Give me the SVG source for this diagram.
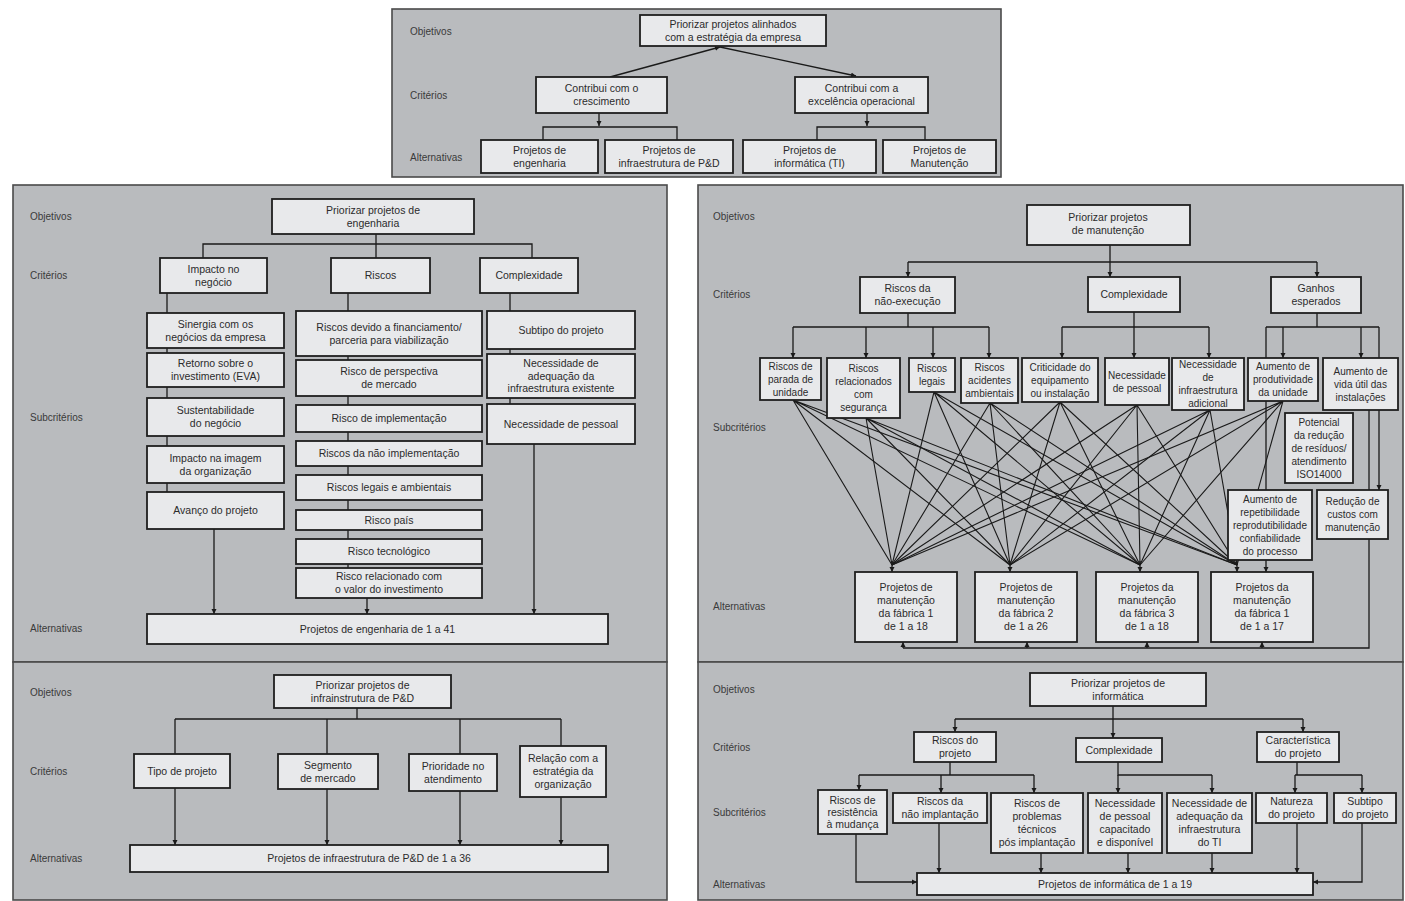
<svg xmlns="http://www.w3.org/2000/svg" width="1405" height="901" viewBox="0 0 1405 901">
<style>
.panel{fill:#b9bbbe;stroke:#4a4a4a;stroke-width:1.6}
.box{fill:#e8e9eb;stroke:#1e1e1e;stroke-width:1.8}
.t{font-family:"Liberation Sans",Arial,sans-serif;font-size:10.5px;fill:#2b2b2b;text-anchor:middle}
.s{font-size:10px}
.lbl{font-family:"Liberation Sans",Arial,sans-serif;font-size:10px;fill:#3a3a3a}
.ln{stroke:#1a1a1a;stroke-width:1.3;fill:none}
.ar{stroke:#1a1a1a;stroke-width:1.3;fill:none;marker-end:url(#ah)}
.mesh{stroke:#1a1a1a;stroke-width:1.1;fill:none}
</style>
<defs>
<marker id="ah" viewBox="0 0 10 10" refX="10" refY="5" markerWidth="5" markerHeight="6" markerUnits="userSpaceOnUse" orient="auto"><path d="M0,0L10,5L0,10z" fill="#1a1a1a"/></marker>
</defs>
<rect x="0" y="0" width="1405" height="901" fill="#ffffff"/>
<g id="panels">
<rect class="panel" x="392" y="9" width="609" height="168"/>
<rect class="panel" x="13" y="185" width="654" height="477"/>
<rect class="panel" x="13" y="662" width="654" height="238"/>
<rect class="panel" x="698" y="185" width="705" height="477"/>
<rect class="panel" x="698" y="662" width="705" height="238"/>
</g>
<g id="labels" class="lbl">
<text x="410" y="35">Objetivos</text><text x="410" y="99">Critérios</text><text x="410" y="161">Alternativas</text>
<text x="30" y="220">Objetivos</text><text x="30" y="279">Critérios</text><text x="30" y="421">Subcritérios</text><text x="30" y="632">Alternativas</text>
<text x="30" y="696">Objetivos</text><text x="30" y="775">Critérios</text><text x="30" y="862">Alternativas</text>
<text x="713" y="220">Objetivos</text><text x="713" y="298">Critérios</text><text x="713" y="431">Subcritérios</text><text x="713" y="610">Alternativas</text>
<text x="713" y="693">Objetivos</text><text x="713" y="751">Critérios</text><text x="713" y="816">Subcritérios</text><text x="713" y="888">Alternativas</text>
</g>
<g id="connectors">
<path class="ar" d="M610,77 L720,47"/>
<path class="ar" d="M720,47 L856,76"/>
<path class="ar" d="M599,113 V126"/>
<path class="ln" d="M543,140 V127 H677 V140"/>
<path class="ar" d="M867,113 V126"/>
<path class="ln" d="M817,140 V127 H925 V140"/>
<path class="ln" d="M376,234 V244 M203,258 V244 H532 V258 M376,244 V258"/>
<path class="ln" d="M167,293 V492"/>
<path class="ar" d="M214,529 V614"/>
<path class="ln" d="M348,293 V568"/>
<path class="ar" d="M367,598 V614"/>
<path class="ln" d="M510,293 V404"/>
<path class="ar" d="M534,444 V614"/>
<path class="ln" d="M357,708 V719 M175,719 H561 M175,719 V754 M327,719 V754 M460,719 V754 M561,719 V746"/>
<path class="ar" d="M175,788 V845"/>
<path class="ar" d="M327,789 V845"/>
<path class="ar" d="M460,791 V845"/>
<path class="ar" d="M561,797 V845"/>
<path class="ln" d="M1110,245 V262 M908,262 H1317"/>
<path class="ar" d="M908,262 V277"/><path class="ar" d="M1110,262 V277"/><path class="ar" d="M1317,262 V277"/>
<path class="ln" d="M908,313 V327 M793,327 H989"/>
<path class="ar" d="M793,327 V358"/><path class="ar" d="M866,327 V358"/><path class="ar" d="M933,327 V358"/><path class="ar" d="M989,327 V358"/>
<path class="ln" d="M1134,312 V327 M1062,327 H1209"/>
<path class="ar" d="M1062,327 V358"/><path class="ar" d="M1134,327 V358"/><path class="ar" d="M1209,327 V358"/>
<path class="ln" d="M1317,313 V327 M1266,327 H1379"/>
<path class="ar" d="M1283,327 V358"/><path class="ar" d="M1361,327 V358"/>
<path class="ar" d="M1266,327 V572"/>
<path class="ar" d="M1379,327 V490"/>
<path class="ln" d="M1369,410 V648 H903"/>
<path class="ar" d="M903,648 V642"/><path class="ar" d="M1027,648 V642"/><path class="ar" d="M1147,648 V642"/><path class="ar" d="M1262,648 V642"/>
<g class="mesh">
<path d="M793,400 L892,565 M793,400 L1010,565 M793,400 L1140,565 M793,400 L1237,565"/>
<path d="M866,418 L892,565 M866,418 L1010,565 M866,418 L1140,565 M866,418 L1237,565"/>
<path d="M934,392 L892,565 M934,392 L1010,565 M934,392 L1140,565 M934,392 L1237,565"/>
<path d="M990,403 L892,565 M990,403 L1010,565 M990,403 L1140,565 M990,403 L1237,565"/>
<path d="M1060,402 L892,565 M1060,402 L1010,565 M1060,402 L1140,565 M1060,402 L1237,565"/>
<path d="M1137,405 L892,565 M1137,405 L1010,565 M1137,405 L1140,565 M1137,405 L1237,565"/>
<path d="M1210,410 L892,565 M1210,410 L1010,565 M1210,410 L1140,565 M1210,410 L1237,565"/>
<path d="M1283,401 L892,565 M1283,401 L1010,565 M1283,401 L1140,565 M1283,401 L1237,565"/>
</g>
<path class="ar" d="M892,561 V572"/><path class="ar" d="M1010,561 V572"/><path class="ar" d="M1140,561 V572"/><path class="ar" d="M1237,561 V572"/>
<path class="ln" d="M1113,706 V719 M955,719 H1303"/>
<path class="ar" d="M955,719 V732"/><path class="ar" d="M1113,719 V738"/><path class="ar" d="M1303,719 V732"/>
<path class="ln" d="M950,762 V775 M859,775 H1034"/>
<path class="ar" d="M859,775 V790"/><path class="ar" d="M941,775 V793"/><path class="ar" d="M1034,775 V793"/>
<path class="ln" d="M1118,762 V775 H1212"/>
<path class="ar" d="M1118,775 V793"/><path class="ar" d="M1212,775 V793"/>
<path class="ln" d="M1297,762 V775 M1295,775 H1362"/>
<path class="ar" d="M1295,775 V793"/><path class="ar" d="M1362,775 V793"/>
<path class="ar" d="M939,823 V873"/><path class="ar" d="M1041,853 V873"/><path class="ar" d="M1128,853 V873"/><path class="ar" d="M1212,853 V873"/><path class="ar" d="M1297,823 V873"/>
<path class="ar" d="M856,834 V882 H917"/>
<path class="ar" d="M1362,823 V882 H1313"/>
</g>
<g id="top-obj"><rect class="box" x="640" y="15" width="186" height="31"/><text class="t"><tspan x="733" y="27.6">Priorizar projetos alinhados</tspan><tspan x="733" y="40.6">com a estratégia da empresa</tspan></text></g>
<g id="top-c1"><rect class="box" x="536" y="77" width="131" height="36"/><text class="t"><tspan x="601.5" y="92.1">Contribui com o</tspan><tspan x="601.5" y="105.1">crescimento</tspan></text></g>
<g id="top-c2"><rect class="box" x="795" y="77" width="133" height="36"/><text class="t"><tspan x="861.5" y="92.1">Contribui com a</tspan><tspan x="861.5" y="105.1">excelência operacional</tspan></text></g>
<g id="top-a1"><rect class="box" x="481" y="140" width="117" height="33"/><text class="t"><tspan x="539.5" y="153.6">Projetos de</tspan><tspan x="539.5" y="166.6">engenharia</tspan></text></g>
<g id="top-a2"><rect class="box" x="605" y="140" width="128" height="33"/><text class="t"><tspan x="669" y="153.6">Projetos de</tspan><tspan x="669" y="166.6">infraestrutura de P&amp;D</tspan></text></g>
<g id="top-a3"><rect class="box" x="743" y="140" width="133" height="33"/><text class="t"><tspan x="809.5" y="153.6">Projetos de</tspan><tspan x="809.5" y="166.6">informática (TI)</tspan></text></g>
<g id="top-a4"><rect class="box" x="883" y="140" width="113" height="33"/><text class="t"><tspan x="939.5" y="153.6">Projetos de</tspan><tspan x="939.5" y="166.6">Manutenção</tspan></text></g>
<g id="eng-obj"><rect class="box" x="272" y="199" width="202" height="35"/><text class="t"><tspan x="373" y="213.6">Priorizar projetos de</tspan><tspan x="373" y="226.6">engenharia</tspan></text></g>
<g id="eng-c1"><rect class="box" x="160" y="258" width="107" height="35"/><text class="t"><tspan x="213.5" y="272.6">Impacto no</tspan><tspan x="213.5" y="285.6">negócio</tspan></text></g>
<g id="eng-c2"><rect class="box" x="331" y="258" width="99" height="35"/><text class="t" x="380.5" y="279.1">Riscos</text></g>
<g id="eng-c3"><rect class="box" x="480" y="258" width="98" height="35"/><text class="t" x="529" y="279.1">Complexidade</text></g>
<g id="eng-s1a"><rect class="box" x="147" y="313" width="137" height="35"/><text class="t"><tspan x="215.5" y="327.6">Sinergia com os</tspan><tspan x="215.5" y="340.6">negócios da empresa</tspan></text></g>
<g id="eng-s1b"><rect class="box" x="147" y="353" width="137" height="34"/><text class="t"><tspan x="215.5" y="367.1">Retorno sobre o</tspan><tspan x="215.5" y="380.1">investimento (EVA)</tspan></text></g>
<g id="eng-s1c"><rect class="box" x="147" y="398" width="137" height="38"/><text class="t"><tspan x="215.5" y="414.1">Sustentabilidade</tspan><tspan x="215.5" y="427.1">do negócio</tspan></text></g>
<g id="eng-s1d"><rect class="box" x="147" y="446" width="137" height="37"/><text class="t"><tspan x="215.5" y="461.6">Impacto na imagem</tspan><tspan x="215.5" y="474.6">da organização</tspan></text></g>
<g id="eng-s1e"><rect class="box" x="147" y="492" width="137" height="37"/><text class="t" x="215.5" y="514.1">Avanço do projeto</text></g>
<g id="eng-s2a"><rect class="box" x="296" y="311" width="186" height="45"/><text class="t"><tspan x="389" y="330.6">Riscos devido a financiamento/</tspan><tspan x="389" y="343.6">parceria para viabilização</tspan></text></g>
<g id="eng-s2b"><rect class="box" x="296" y="360" width="186" height="36"/><text class="t"><tspan x="389" y="375.1">Risco de perspectiva</tspan><tspan x="389" y="388.1">de mercado</tspan></text></g>
<g id="eng-s2c"><rect class="box" x="296" y="405" width="186" height="27"/><text class="t" x="389" y="422.1">Risco de implementação</text></g>
<g id="eng-s2d"><rect class="box" x="296" y="441" width="186" height="25"/><text class="t" x="389" y="457.1">Riscos da não implementação</text></g>
<g id="eng-s2e"><rect class="box" x="296" y="475" width="186" height="25"/><text class="t" x="389" y="491.1">Riscos legais e ambientais</text></g>
<g id="eng-s2f"><rect class="box" x="296" y="510" width="186" height="20"/><text class="t" x="389" y="523.6">Risco país</text></g>
<g id="eng-s2g"><rect class="box" x="296" y="539" width="186" height="25"/><text class="t" x="389" y="555.1">Risco tecnológico</text></g>
<g id="eng-s2h"><rect class="box" x="296" y="568" width="186" height="30"/><text class="t"><tspan x="389" y="580.1">Risco relacionado com</tspan><tspan x="389" y="593.1">o valor do investimento</tspan></text></g>
<g id="eng-s3a"><rect class="box" x="487" y="311" width="148" height="38"/><text class="t" x="561" y="333.6">Subtipo do projeto</text></g>
<g id="eng-s3b"><rect class="box" x="487" y="354" width="148" height="44"/><text class="t"><tspan x="561" y="367.1">Necessidade de</tspan><tspan x="561" y="379.6">adequação da</tspan><tspan x="561" y="392.1">infraestrutura existente</tspan></text></g>
<g id="eng-s3c"><rect class="box" x="487" y="404" width="148" height="40"/><text class="t" x="561" y="427.6">Necessidade de pessoal</text></g>
<g id="eng-alt"><rect class="box" x="147" y="614" width="461" height="30"/><text class="t" x="377.5" y="632.6">Projetos de engenharia de 1 a 41</text></g>
<g id="pd-obj"><rect class="box" x="274" y="675" width="177" height="33"/><text class="t"><tspan x="362.5" y="688.6">Priorizar projetos de</tspan><tspan x="362.5" y="701.6">infrainstrutura de P&amp;D</tspan></text></g>
<g id="pd-c1"><rect class="box" x="134" y="754" width="96" height="34"/><text class="t" x="182" y="774.6">Tipo de projeto</text></g>
<g id="pd-c2"><rect class="box" x="278" y="754" width="100" height="35"/><text class="t"><tspan x="328" y="768.6">Segmento</tspan><tspan x="328" y="781.6">de mercado</tspan></text></g>
<g id="pd-c3"><rect class="box" x="409" y="754" width="88" height="37"/><text class="t"><tspan x="453" y="769.6">Prioridade no</tspan><tspan x="453" y="782.6">atendimento</tspan></text></g>
<g id="pd-c4"><rect class="box" x="520" y="746" width="86" height="51"/><text class="t"><tspan x="563" y="762.1">Relação com a</tspan><tspan x="563" y="775.1">estratégia da</tspan><tspan x="563" y="788.1">organização</tspan></text></g>
<g id="pd-alt"><rect class="box" x="130" y="845" width="478" height="27"/><text class="t" x="369" y="862.1">Projetos de infraestrutura de P&amp;D de 1 a 36</text></g>
<g id="mt-obj"><rect class="box" x="1027" y="205" width="163" height="40"/><text class="t"><tspan x="1108" y="221.1">Priorizar projetos</tspan><tspan x="1108" y="234.1">de manutenção</tspan></text></g>
<g id="mt-c1"><rect class="box" x="860" y="277" width="95" height="36"/><text class="t"><tspan x="907.5" y="292.1">Riscos da</tspan><tspan x="907.5" y="305.1">não-execução</tspan></text></g>
<g id="mt-c2"><rect class="box" x="1088" y="277" width="92" height="35"/><text class="t" x="1134" y="298.1">Complexidade</text></g>
<g id="mt-c3"><rect class="box" x="1271" y="277" width="90" height="36"/><text class="t"><tspan x="1316" y="292.1">Ganhos</tspan><tspan x="1316" y="305.1">esperados</tspan></text></g>
<g id="mt-s1"><rect class="box" x="760" y="358" width="61" height="42"/><text class="t s"><tspan x="790.5" y="369.5">Riscos de</tspan><tspan x="790.5" y="382.5">parada de</tspan><tspan x="790.5" y="395.5">unidade</tspan></text></g>
<g id="mt-s2"><rect class="box" x="827" y="358" width="73" height="60"/><text class="t s"><tspan x="863.5" y="372">Riscos</tspan><tspan x="863.5" y="385">relacionados</tspan><tspan x="863.5" y="398">com</tspan><tspan x="863.5" y="411">segurança</tspan></text></g>
<g id="mt-s3"><rect class="box" x="909" y="358" width="46" height="34"/><text class="t s"><tspan x="932" y="372">Riscos</tspan><tspan x="932" y="385">legais</tspan></text></g>
<g id="mt-s4"><rect class="box" x="961" y="358" width="57" height="45"/><text class="t s"><tspan x="989.5" y="371">Riscos</tspan><tspan x="989.5" y="384">acidentes</tspan><tspan x="989.5" y="397">ambientais</tspan></text></g>
<g id="mt-s5"><rect class="box" x="1022" y="358" width="76" height="44"/><text class="t s"><tspan x="1060" y="370.5">Criticidade do</tspan><tspan x="1060" y="383.5">equipamento</tspan><tspan x="1060" y="396.5">ou instalação</tspan></text></g>
<g id="mt-s6"><rect class="box" x="1105" y="358" width="64" height="47"/><text class="t s"><tspan x="1137" y="378.5">Necessidade</tspan><tspan x="1137" y="391.5">de pessoal</tspan></text></g>
<g id="mt-s7"><rect class="box" x="1172" y="358" width="72" height="52"/><text class="t s"><tspan x="1208" y="368">Necessidade</tspan><tspan x="1208" y="381">de</tspan><tspan x="1208" y="394">infraestrutura</tspan><tspan x="1208" y="407">adicional</tspan></text></g>
<g id="mt-s8"><rect class="box" x="1248" y="358" width="70" height="43"/><text class="t s"><tspan x="1283" y="370">Aumento de</tspan><tspan x="1283" y="383">produtividade</tspan><tspan x="1283" y="396">da unidade</tspan></text></g>
<g id="mt-s9"><rect class="box" x="1323" y="358" width="75" height="52"/><text class="t s"><tspan x="1360.5" y="374.5">Aumento de</tspan><tspan x="1360.5" y="387.5">vida útil das</tspan><tspan x="1360.5" y="400.5">instalações</tspan></text></g>
<g id="mt-s10"><rect class="box" x="1285" y="413" width="68" height="70"/><text class="t s"><tspan x="1319" y="425.5">Potencial</tspan><tspan x="1319" y="438.5">da redução</tspan><tspan x="1319" y="451.5">de resíduos/</tspan><tspan x="1319" y="464.5">atendimento</tspan><tspan x="1319" y="477.5">ISO14000</tspan></text></g>
<g id="mt-s11"><rect class="box" x="1228" y="490" width="84" height="70"/><text class="t s"><tspan x="1270" y="502.5">Aumento de</tspan><tspan x="1270" y="515.5">repetibilidade</tspan><tspan x="1270" y="528.5">reprodutibilidade</tspan><tspan x="1270" y="541.5">confiabilidade</tspan><tspan x="1270" y="554.5">do processo</tspan></text></g>
<g id="mt-s12"><rect class="box" x="1317" y="490" width="71" height="49"/><text class="t s"><tspan x="1352.5" y="505">Redução de</tspan><tspan x="1352.5" y="518">custos com</tspan><tspan x="1352.5" y="531">manutenção</tspan></text></g>
<g id="mt-a1"><rect class="box" x="855" y="572" width="102" height="70"/><text class="t"><tspan x="906" y="591">Projetos de</tspan><tspan x="906" y="604">manutenção</tspan><tspan x="906" y="617">da fábrica 1</tspan><tspan x="906" y="630">de 1 a 18</tspan></text></g>
<g id="mt-a2"><rect class="box" x="975" y="572" width="102" height="70"/><text class="t"><tspan x="1026" y="591">Projetos de</tspan><tspan x="1026" y="604">manutenção</tspan><tspan x="1026" y="617">da fábrica 2</tspan><tspan x="1026" y="630">de 1 a 26</tspan></text></g>
<g id="mt-a3"><rect class="box" x="1096" y="572" width="102" height="70"/><text class="t"><tspan x="1147" y="591">Projetos da</tspan><tspan x="1147" y="604">manutenção</tspan><tspan x="1147" y="617">da fábrica 3</tspan><tspan x="1147" y="630">de 1 a 18</tspan></text></g>
<g id="mt-a4"><rect class="box" x="1211" y="572" width="102" height="70"/><text class="t"><tspan x="1262" y="591">Projetos da</tspan><tspan x="1262" y="604">manutenção</tspan><tspan x="1262" y="617">da fábrica 1</tspan><tspan x="1262" y="630">de 1 a 17</tspan></text></g>
<g id="it-obj"><rect class="box" x="1030" y="673" width="176" height="33"/><text class="t"><tspan x="1118" y="686.6">Priorizar projetos de</tspan><tspan x="1118" y="699.6">informática</tspan></text></g>
<g id="it-c1"><rect class="box" x="914" y="732" width="82" height="30"/><text class="t"><tspan x="955" y="744.1">Riscos do</tspan><tspan x="955" y="757.1">projeto</tspan></text></g>
<g id="it-c2"><rect class="box" x="1076" y="738" width="86" height="24"/><text class="t" x="1119" y="753.6">Complexidade</text></g>
<g id="it-c3"><rect class="box" x="1257" y="732" width="82" height="30"/><text class="t"><tspan x="1298" y="744.1">Característica</tspan><tspan x="1298" y="757.1">do projeto</tspan></text></g>
<g id="it-s1"><rect class="box" x="818" y="790" width="69" height="44"/><text class="t"><tspan x="852.5" y="803.6">Riscos de</tspan><tspan x="852.5" y="815.6">resistência</tspan><tspan x="852.5" y="827.6">à mudança</tspan></text></g>
<g id="it-s2"><rect class="box" x="893" y="793" width="94" height="30"/><text class="t"><tspan x="940" y="805.1">Riscos da</tspan><tspan x="940" y="818.1">não implantação</tspan></text></g>
<g id="it-s3"><rect class="box" x="991" y="793" width="92" height="60"/><text class="t"><tspan x="1037" y="807.1">Riscos de</tspan><tspan x="1037" y="820.1">problemas</tspan><tspan x="1037" y="833.1">técnicos</tspan><tspan x="1037" y="846.1">pós implantação</tspan></text></g>
<g id="it-s4"><rect class="box" x="1088" y="793" width="74" height="60"/><text class="t"><tspan x="1125" y="807.1">Necessidade</tspan><tspan x="1125" y="820.1">de pessoal</tspan><tspan x="1125" y="833.1">capacitado</tspan><tspan x="1125" y="846.1">e disponível</tspan></text></g>
<g id="it-s5"><rect class="box" x="1167" y="793" width="85" height="60"/><text class="t"><tspan x="1209.5" y="807.1">Necessidade de</tspan><tspan x="1209.5" y="820.1">adequação da</tspan><tspan x="1209.5" y="833.1">infraestrutura</tspan><tspan x="1209.5" y="846.1">do TI</tspan></text></g>
<g id="it-s6"><rect class="box" x="1256" y="793" width="71" height="30"/><text class="t"><tspan x="1291.5" y="805.1">Natureza</tspan><tspan x="1291.5" y="818.1">do projeto</tspan></text></g>
<g id="it-s7"><rect class="box" x="1334" y="793" width="62" height="30"/><text class="t"><tspan x="1365" y="805.1">Subtipo</tspan><tspan x="1365" y="818.1">do projeto</tspan></text></g>
<g id="it-alt"><rect class="box" x="917" y="873" width="396" height="22"/><text class="t" x="1115" y="887.6">Projetos de informática de 1 a 19</text></g>
</svg>
